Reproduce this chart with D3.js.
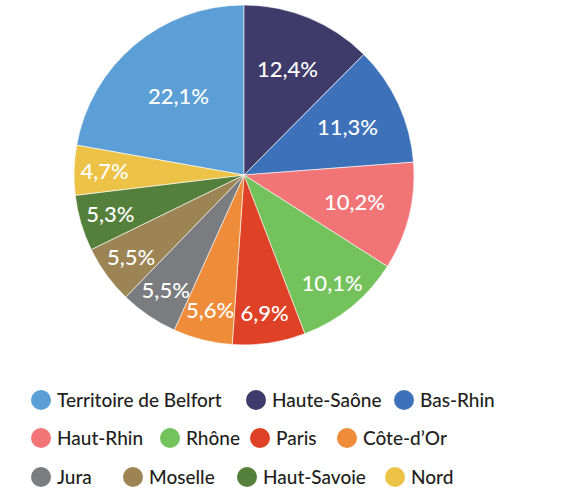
<!DOCTYPE html>
<html>
<head>
<meta charset="utf-8">
<script src="https://cdn.jsdelivr.net/npm/d3@7"></script>
<style>
  body { margin: 0; background: #fff; }
  text { font-family: Lato, "Open Sans", sans-serif; }
</style>
</head>
<body>
<div id="chart"></div>
<script>
// Data (legend order)
const departements = ["Territoire de Belfort", "Haute-Saône", "Bas-Rhin", "Haut-Rhin", "Rhône", "Paris", "Côte-d’Or", "Jura", "Moselle", "Haut-Savoie", "Nord"];
const parts = [22.1, 12.4, 11.3, 10.2, 10.1, 6.9, 5.6, 5.5, 5.5, 5.3, 4.7];
const labels = ["22,1%", "12,4%", "11,3%", "10,2%", "10,1%", "6,9%", "5,6%", "5,5%", "5,5%", "5,3%", "4,7%"];
const couleurs = ["#5b9fd6", "#3e3a6a", "#3d72ba", "#f17576", "#73c25c", "#df4127", "#ee8c3a", "#7b7c80", "#9c8454", "#55803c", "#ecc247"];

// Dimensions
const width = 584;
const height = 492;
const cx = 244, cy = 175, radius = 170;

const svg = d3.select("#chart")
  .append("svg")
    .attr("width", width)
    .attr("height", height);

const total = d3.sum(parts);
const offset = parts[0] / total * 2 * Math.PI; // first slice ends at 12 o'clock

const pie = d3.pie()
  .sort(null)
  .startAngle(-offset)
  .endAngle(2 * Math.PI - offset);

const arcs = pie(parts);
const arc = d3.arc().innerRadius(0).outerRadius(radius);

const g = svg.append("g")
  .attr("transform", `translate(${cx}, ${cy})`);

g.selectAll(".slice")
  .data(arcs)
  .join("path")
    .attr("class", "slice")
    .attr("d", arc)
    .attr("fill", (d, i) => couleurs[i])
    .attr("stroke", "#fff")
    .attr("stroke-width", 0.6);

// big slices get their label closer to the centre
const labelR = v => v >= 20 ? 0.6 : v >= 10.2 ? 0.67 : 0.82;

g.selectAll(".pct")
  .data(arcs)
  .join("text")
    .attr("class", "pct")
    .attr("transform", d => {
      const a = (d.startAngle + d.endAngle) / 2;
      const r = radius * labelR(d.value);
      return `translate(${r * Math.sin(a)}, ${-r * Math.cos(a)})`;
    })
    .attr("text-anchor", "middle")
    .attr("dy", "0.35em")
    .attr("fill", "#fff")
    .style("font-size", "22px")
    .style("font-weight", 500)
    .text((d, i) => labels[i]);

// Legend
const legendRows = [[0, 1, 2], [3, 4, 5, 6], [7, 8, 9, 10]];
const legendX = [[41, 256, 404], [41, 170, 260, 347], [41, 133, 247, 395]];
const legendY = [400, 438, 477];

legendRows.forEach((row, r) => {
  const items = svg.append("g")
    .selectAll("g")
    .data(row)
    .join("g")
      .attr("transform", (d, j) => `translate(${legendX[r][j]}, ${legendY[r]})`);

  items.append("circle")
    .attr("r", 10)
    .attr("fill", d => couleurs[d]);

  items.append("text")
    .attr("x", 16)
    .attr("dy", "0.35em")
    .attr("fill", "#231f20")
    .style("font-size", "19px")
    .style("font-weight", 500)
    .text(d => departements[d]);
});
</script>
</body>
</html>
